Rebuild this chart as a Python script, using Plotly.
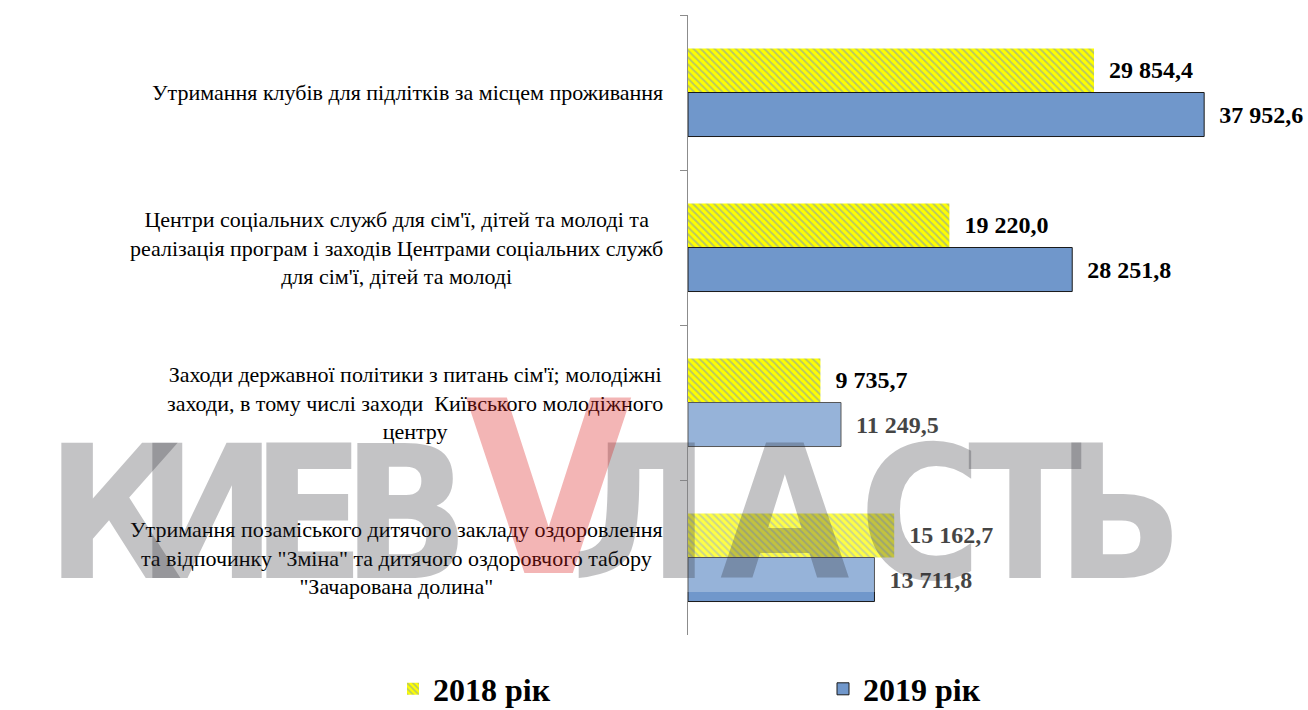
import plotly.graph_objects as go

# ---- data ----
categories = [
    "Утримання клубів для підлітків за місцем проживання",
    "Центри соціальних служб для сім'ї, дітей та молоді та<br>реалізація програм і заходів Центрами соціальних служб<br>для сім'ї, дітей та молоді",
    "Заходи державної політики з питань сім'ї; молодіжні<br>заходи, в тому числі заходи  Київського молодіжного<br>центру",
    "Утримання позаміського дитячого закладу оздоровлення<br>та відпочинку \"Зміна\" та дитячого оздоровчого табору<br>\"Зачарована долина\"",
]
series_names = ["2018 рік", "2019 рік"]
values_2018 = [29854.4, 19220.0, 9735.7, 15162.7]
values_2019 = [37952.6, 28251.8, 11249.5, 13711.8]

# ---- layout helpers (pixel -> paper) ----
W, H = 1308, 710
ML, MR, MT, MB = 688, 76, 15, 75
PW, PH = W - ML - MR, H - MT - MB


def px_x(px):
    return (px - ML) / PW


def px_y(py):
    return (H - MB - py) / PH


SERIF = "Liberation Serif, Times New Roman, serif"

fig = go.Figure()
fig.add_trace(go.Bar(
    name=series_names[0], y=categories, x=values_2018, orientation="h",
    marker=dict(color="#FFFF00", line=dict(width=0),
                pattern=dict(shape="\\", fgcolor="#6F8FC6", bgcolor="#FFFF00",
                             size=5, solidity=0.4)),
    texttemplate="\u00a0\u00a0%{x:,.1f}", textposition="outside",
    textfont=dict(family=SERIF, size=24, color="black", weight="bold"),
    cliponaxis=False, constraintext="none", hoverinfo="skip",
))
fig.add_trace(go.Bar(
    name=series_names[1], y=categories, x=values_2019, orientation="h",
    marker=dict(color="#7097CB", line=dict(width=1, color="#1a1a1a")),
    texttemplate="\u00a0\u00a0%{x:,.1f}", textposition="outside",
    textfont=dict(family=SERIF, size=24, color="black", weight="bold"),
    cliponaxis=False, constraintext="none", hoverinfo="skip",
))

annotations = []
for cat in categories:
    annotations.append(dict(
        x=px_x(665), xref="paper", y=cat, yref="y",
        xanchor="right", yanchor="middle", align="center",
        text=cat, showarrow=False,
        font=dict(family=SERIF, size=22, color="black"),
    ))

# watermark (КИЕВVЛАСТЬ)
WM_FONT = "Liberation Sans Narrow, DejaVu Sans Condensed, sans-serif"
wm_letters = ["К", "И", "Е", "В", "Л", "А", "С", "Т", "Ь"]
wm_centers = [114, 207, 308, 406, 640, 785, 920, 1025, 1120]
for ch, cx in zip(wm_letters, wm_centers):
    annotations.append(dict(
        x=px_x(cx), xref="paper", y=px_y(513), yref="paper",
        xanchor="center", yanchor="middle", text=ch, showarrow=False,
        font=dict(family=WM_FONT, size=186, color="rgba(40,40,45,0.28)", weight="bold"),
    ))
annotations.append(dict(
    x=px_x(548), xref="paper", y=px_y(490), yref="paper",
    xanchor="center", yanchor="middle", text="V", showarrow=False,
    font=dict(family=WM_FONT, size=240, color="rgba(220,30,30,0.33)", weight="bold"),
))

shapes = [dict(
    type="rect", xref="paper", yref="paper",
    x0=px_x(60), x1=px_x(1170), y0=px_y(592), y1=px_y(402),
    fillcolor="rgba(255,255,255,0.27)", line=dict(width=0), layer="above",
)]

fig.update_layout(
    width=W, height=H,
    margin=dict(l=ML, r=MR, t=MT, b=MB, autoexpand=False),
    paper_bgcolor="white", plot_bgcolor="white",
    font=dict(family=SERIF, color="black"),
    barmode="group", bargap=0.432, bargroupgap=0,
    separators=", ",
    showlegend=True,
    legend=dict(
        orientation="h", x=px_x(393), xanchor="left", y=px_y(689), yanchor="middle",
        font=dict(family=SERIF, size=32, color="black", weight="bold"),
        entrywidth=385, entrywidthmode="pixels", bgcolor="rgba(0,0,0,0)",
    ),
    xaxis=dict(range=[0, 40000], showgrid=False, zeroline=False, showline=False,
               showticklabels=False, ticks=""),
    yaxis=dict(autorange="reversed", showgrid=False, zeroline=False,
               showline=True, linecolor="#8c8c8c", linewidth=1,
               ticks="outside", tickson="boundaries", ticklen=7, tickcolor="#8c8c8c",
               showticklabels=False),
    annotations=annotations,
    shapes=shapes,
)

fig.write_html(
    "out.html",
    config={"displayModeBar": False},
    post_script="document.body.style.margin='0';document.body.style.overflow='hidden';",
)
